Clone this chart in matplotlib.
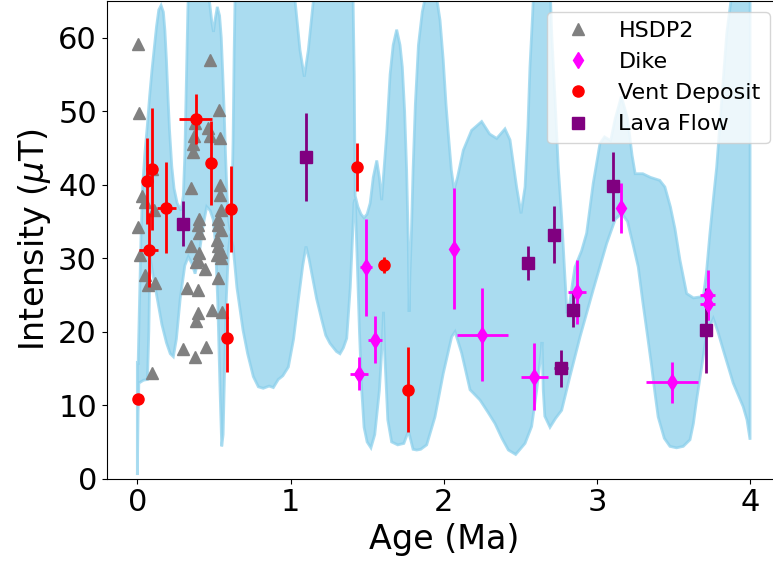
"""
plot.py
=======
Paleointensity vs age: HSDP2 core, dikes, vent deposits and lava flows
drawn over the confidence band of the field model.
"""

from pathlib import Path

import matplotlib
import matplotlib.pyplot as plt

matplotlib.use("Agg")

OUTPUT_PLOT = Path("out.png")

# HSDP2 core samples (no error bars)
HSDP2_AGE = [0.007, 0.013, 0.475, 0.535, 0.377, 0.464, 0.372, 0.475, 0.540, 0.366,
             0.366, 0.094, 0.350, 0.540, 0.540, 0.033, 0.050, 0.111, 0.007, 0.405,
             0.398, 0.405, 0.546, 0.529, 0.525, 0.546, 0.350, 0.405, 0.398, 0.381,
             0.442, 0.518, 0.529, 0.546, 0.518, 0.546, 0.018, 0.050, 0.072, 0.116,
             0.529, 0.322, 0.398, 0.394, 0.381, 0.490, 0.551, 0.300, 0.377, 0.446,
             0.094]
HSDP2_INT = [59.2, 49.8, 57.0, 50.2, 48.4, 47.7, 46.6, 46.6, 46.4, 45.6,
             44.4, 42.2, 39.5, 40.0, 38.6, 38.4, 37.7, 36.6, 34.3, 35.4,
             34.5, 33.4, 36.6, 35.4, 34.5, 33.8, 31.6, 30.7, 29.8, 29.5,
             28.6, 32.5, 31.6, 30.9, 30.4, 30.0, 30.4, 27.7, 26.4, 26.6,
             27.3, 25.9, 25.7, 22.5, 21.4, 23.0, 22.7, 17.6, 16.6, 17.9,
             14.4]

# Dikes
DIKE_AGE     = [1.491, 1.552, 1.449, 2.069, 2.252, 2.590, 2.870, 3.155, 3.490, 3.723, 3.723]
DIKE_INT     = [28.8, 18.9, 14.3, 31.3, 19.6, 13.9, 25.4, 36.9, 13.1, 25.0, 23.8]
DIKE_AGE_ERR = [0.040, 0.048, 0.059, 0.0, 0.168, 0.088, 0.060, 0.0, 0.170, 0.048, 0.048]
DIKE_INT_ERR = [6.6, 3.2, 2.2, 8.2, 6.3, 4.5, 4.4, 3.4, 2.8, 3.4, 2.2]

# Vent deposits
VENT_AGE     = [0.007, 0.066, 0.094, 0.076, 0.190, 0.381, 0.481, 0.610, 0.583, 1.432, 1.612, 1.769]
VENT_INT     = [10.9, 40.5, 42.2, 31.1, 36.9, 49.0, 43.0, 36.7, 19.2, 42.4, 29.1, 12.1]
VENT_AGE_ERR = [0.0, 0.0, 0.0, 0.062, 0.060, 0.109, 0.0, 0.0, 0.0, 0.0, 0.0, 0.0]
VENT_INT_ERR = [0.0, 5.9, 8.3, 5.0, 6.2, 3.4, 5.7, 5.9, 4.7, 3.3, 1.1, 5.8]

# Lava flows
LAVA_AGE     = [0.300, 1.101, 2.552, 2.722, 2.842, 2.764, 3.103, 3.712]
LAVA_INT     = [34.7, 43.8, 29.3, 33.2, 23.0, 15.0, 39.8, 20.2]
LAVA_AGE_ERR = [0.0, 0.0, 0.0, 0.0, 0.0, 0.045, 0.0, 0.0]
LAVA_INT_ERR = [3.1, 6.0, 2.3, 3.9, 2.4, 2.5, 4.7, 5.8]

# Model band, upper edge (values > 65 run off the top of the axes)
BAND_UPPER_AGE = [
    0.000, 0.005, 0.013, 0.024, 0.035, 0.050, 0.065, 0.080, 0.095, 0.110,
    0.125, 0.140, 0.155, 0.170, 0.180, 0.190, 0.200, 0.210, 0.225, 0.240,
    0.260, 0.285, 0.300, 0.310, 0.320, 0.330, 0.340, 0.400, 0.455, 0.475,
    0.487, 0.497, 0.508, 0.522, 0.537, 0.548, 0.558, 0.567, 0.576, 0.586,
    0.597, 0.607, 0.617, 0.625, 0.632, 0.640, 0.700, 1.000, 1.030, 1.062,
    1.090, 1.116, 1.149, 1.180, 1.395, 1.408, 1.416, 1.422, 1.440, 1.460,
    1.480, 1.500, 1.520, 1.540, 1.563, 1.580, 1.595, 1.610, 1.628, 1.650,
    1.670, 1.693, 1.715, 1.730, 1.745, 1.758, 1.769, 1.774, 1.780, 1.790,
    1.800, 1.815, 1.835, 1.860, 1.885, 1.920, 1.950, 1.976, 1.997, 2.015,
    2.030, 2.050, 2.068, 2.090, 2.128, 2.182, 2.248, 2.300, 2.346, 2.400,
    2.433, 2.476, 2.505, 2.531, 2.550, 2.563, 2.580, 2.595, 2.690, 2.705,
    2.727, 2.748, 2.770, 2.790, 2.805, 2.820, 2.840, 2.857, 2.900, 2.933,
    2.976, 3.020, 3.050, 3.090, 3.120, 3.160, 3.200, 3.230, 3.250, 3.300,
    3.350, 3.410, 3.444, 3.480, 3.510, 3.542, 3.586, 3.630, 3.695, 3.715,
    3.738, 3.760, 3.782, 3.815, 3.848, 3.881, 3.920, 4.000,
]
BAND_UPPER = [
    16.0, 15.5, 23.0, 33.0, 40.0, 44.5, 48.0, 52.0, 55.5, 58.5,
    61.5, 63.8, 64.4, 63.5, 61.0, 57.0, 52.0, 47.5, 42.5, 39.5,
    37.5, 36.5, 38.5, 44.0, 54.0, 64.0, 70.0, 72.0, 68.0, 64.2,
    62.0, 60.8, 62.5, 64.2, 63.0, 60.0, 55.0, 50.0, 44.0, 38.5,
    35.0, 33.8, 37.0, 46.0, 58.0, 68.0, 72.0, 72.0, 65.0, 58.3,
    54.7, 58.3, 65.0, 72.0, 72.0, 66.0, 55.0, 38.5, 37.0, 36.0,
    35.5, 36.0, 37.5, 41.0, 43.3, 41.0, 37.9, 42.0, 47.0, 55.0,
    59.0, 61.1, 59.0, 56.0, 50.0, 42.0, 32.0, 22.7, 28.0, 34.0,
    42.0, 51.0, 59.0, 63.5, 66.0, 68.0, 66.0, 62.4, 57.0, 51.0,
    47.0, 42.0, 39.3, 41.0, 44.7, 47.4, 48.6, 46.9, 46.3, 47.6,
    46.1, 39.7, 36.1, 39.7, 48.0, 56.0, 63.0, 70.0, 70.0, 60.6,
    51.5, 42.4, 35.6, 28.0, 22.5, 23.5, 26.5, 28.8, 31.0, 33.4,
    40.2, 45.6, 46.5, 46.0, 49.0, 52.0, 49.0, 44.0, 41.5, 41.5,
    41.0, 40.6, 39.7, 37.0, 34.0, 29.8, 25.2, 24.6, 24.8, 28.0,
    33.4, 38.0, 42.4, 51.5, 60.6, 66.0, 72.0, 72.0,
]

# Model band, lower edge
BAND_LOWER_AGE = [
    0.000, 0.005, 0.010, 0.040, 0.066, 0.075, 0.083, 0.100, 0.130, 0.160,
    0.190, 0.215, 0.235, 0.255, 0.280, 0.310, 0.333, 0.355, 0.377, 0.400,
    0.430, 0.453, 0.475, 0.496, 0.510, 0.525, 0.540, 0.551, 0.560, 0.570,
    0.580, 0.595, 0.607, 0.625, 0.650, 0.690, 0.720, 0.757, 0.790, 0.822,
    0.860, 0.888, 0.920, 0.950, 0.986, 1.020, 1.051, 1.080, 1.101, 1.120,
    1.138, 1.170, 1.204, 1.230, 1.258, 1.300, 1.323, 1.345, 1.367, 1.390,
    1.405, 1.414, 1.422, 1.435, 1.450, 1.465, 1.480, 1.500, 1.525, 1.550,
    1.580, 1.600, 1.607, 1.615, 1.635, 1.660, 1.700, 1.740, 1.770, 1.800,
    1.824, 1.850, 1.889, 1.943, 1.997, 2.052, 2.074, 2.117, 2.172, 2.237,
    2.290, 2.335, 2.380, 2.422, 2.470, 2.531, 2.574, 2.607, 2.635, 2.642,
    2.650, 2.660, 2.694, 2.730, 2.770, 2.824, 2.890, 2.976, 3.064, 3.120,
    3.162, 3.200, 3.240, 3.270, 3.300, 3.330, 3.358, 3.380, 3.400, 3.440,
    3.477, 3.520, 3.564, 3.608, 3.630, 3.651, 3.684, 3.717, 3.760, 3.790,
    3.825, 3.890, 3.955, 3.980, 4.000,
]
BAND_LOWER = [
    0.5, 9.0, 13.0, 13.4, 13.5, 20.0, 30.2, 28.0, 24.5, 21.0,
    18.5, 17.0, 16.6, 19.0, 24.5, 29.0, 30.2, 29.3, 27.9, 30.0,
    34.5, 37.0, 36.5, 35.2, 32.0, 24.0, 12.0, 4.4, 6.0, 15.0,
    24.0, 31.0, 33.3, 31.6, 26.0, 20.2, 17.0, 13.9, 12.5, 12.3,
    12.6, 12.4, 13.5, 14.0, 15.2, 19.0, 24.3, 29.0, 31.6, 30.0,
    28.0, 24.5, 21.6, 19.5, 18.4, 17.3, 17.0, 17.8, 19.1, 26.0,
    33.0, 37.5, 38.0, 30.0, 20.0, 12.0, 7.0, 5.0, 4.2, 6.0,
    12.0, 19.0, 22.7, 17.0, 8.0, 5.0, 4.6, 4.8, 6.5, 4.0,
    3.9, 4.0, 4.6, 8.4, 14.3, 19.3, 20.0, 17.1, 12.1, 10.7,
    9.0, 7.5, 5.5, 3.9, 3.3, 4.8, 7.1, 12.0, 17.0, 18.6,
    12.0, 8.5, 7.0, 8.2, 9.3, 13.9, 19.3, 25.7, 32.0, 35.3,
    36.1, 35.0, 31.5, 28.8, 24.0, 19.5, 15.2, 11.5, 8.4, 5.5,
    4.4, 4.2, 4.4, 5.3, 7.5, 10.7, 15.2, 19.8, 21.8, 20.0,
    17.5, 13.0, 9.8, 8.0, 5.3,
]

assert len(BAND_UPPER_AGE) == len(BAND_UPPER)
assert len(BAND_LOWER_AGE) == len(BAND_LOWER)


def plot_group(ax, age, inten, age_err, int_err, marker, color, label, size):
    """Error bars first, then the markers on top (legend shows markers only)."""
    ax.errorbar(age, inten, xerr=age_err, yerr=int_err, fmt="none",
                ecolor=color, elinewidth=2, capsize=0, zorder=3)
    ax.plot(age, inten, linestyle="none", marker=marker, color=color,
            markersize=size, label=label, zorder=4)


def main() -> None:
    fig = plt.figure(figsize=(7.73, 5.70), dpi=100)
    ax = fig.add_axes([106.7 / 773, 91.3 / 570, 674 / 773, 477.7 / 570])

    # band polygon: upper edge forward, lower edge back
    band_x = BAND_UPPER_AGE + BAND_LOWER_AGE[::-1]
    band_y = BAND_UPPER + BAND_LOWER[::-1]
    ax.fill(band_x, band_y, color="skyblue", alpha=0.7, linewidth=2, zorder=1)

    ax.plot(HSDP2_AGE, HSDP2_INT, linestyle="none", marker="^", color="gray",
            markersize=8, label="HSDP2", zorder=2)
    plot_group(ax, DIKE_AGE, DIKE_INT, DIKE_AGE_ERR, DIKE_INT_ERR,
               "d", "magenta", "Dike", 8)
    plot_group(ax, VENT_AGE, VENT_INT, VENT_AGE_ERR, VENT_INT_ERR,
               "o", "red", "Vent Deposit", 8)
    plot_group(ax, LAVA_AGE, LAVA_INT, LAVA_AGE_ERR, LAVA_INT_ERR,
               "s", "purple", "Lava Flow", 8)

    ax.set_xlim(-0.2, 4.2)
    ax.set_ylim(0, 65)
    ax.set_xticks([0, 1, 2, 3, 4])
    ax.set_yticks([0, 10, 20, 30, 40, 50, 60])
    ax.tick_params(labelsize=22)
    ax.set_xlabel("Age (Ma)", fontsize=24)
    ax.set_ylabel(r"Intensity ($\mu$T)", fontsize=24)
    ax.legend(loc="upper right", fontsize=16)

    fig.savefig(OUTPUT_PLOT, dpi=100)
    plt.close(fig)


if __name__ == "__main__":
    main()
